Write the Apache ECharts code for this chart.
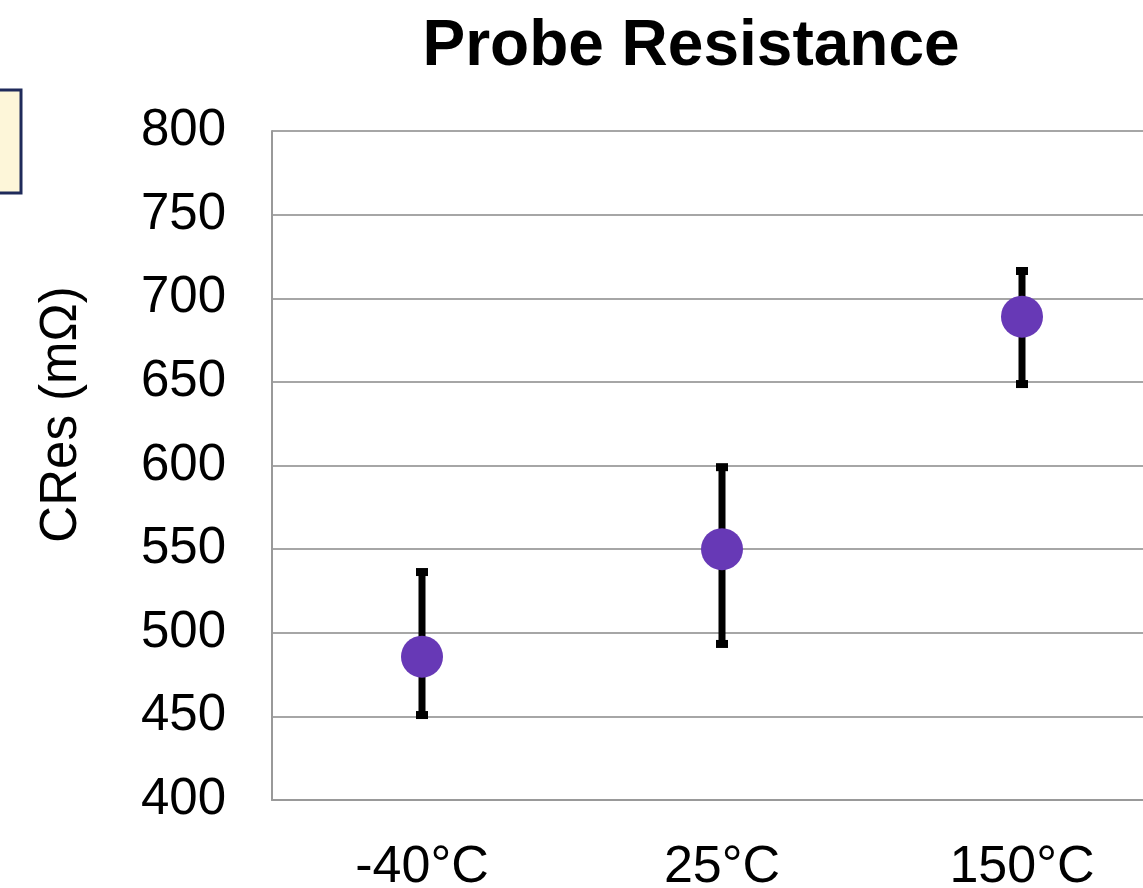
<!DOCTYPE html>
<html>
<head>
<meta charset="utf-8">
<script src="https://cdn.jsdelivr.net/npm/echarts@6/dist/echarts.min.js"></script>
<style>
  html, body { margin: 0; padding: 0; background: #fff; }
  #main { width: 1143px; height: 888px; }
</style>
</head>
<body>
<div id="main"></div>
<script>
const categories = ["-40°C", "25°C", "150°C"];
const meanValues = [485.7, 550, 689];
const upperValues = [536.3, 599, 716.3];
const lowerValues = [450.8, 493.3, 648.7];
const yTicks = [400, 450, 500, 550, 600, 650, 700, 750, 800];

const font = "Liberation Sans, Arial, sans-serif";

const myChart = echarts.init(document.getElementById("main"));

const errorData = categories.map((c, i) => [i, lowerValues[i], upperValues[i]]);

const option = {
  animation: false,
  title: {
    text: "Probe Resistance",
    left: 686,
    top: 10,
    textAlign: "center",
    textStyle: { fontFamily: font, fontSize: 64, fontWeight: "bold", color: "#000" },
  },
  grid: { left: 272, width: 900, top: 131, height: 669, outerBoundsMode: "none", containLabel: false },
  graphic: [
    {
      type: "rect",
      shape: { x: -3, y: 90, width: 24, height: 103 },
      style: { fill: "#fdf6d9", stroke: "#1f2a5a", lineWidth: 3 },
    },
  ],
  xAxis: {
    type: "category",
    data: categories,
    axisLine: { lineStyle: { color: "#999", width: 2 } },
    axisTick: { show: false },
    axisLabel: { fontFamily: font, fontSize: 52, color: "#000", margin: 42 },
  },
  yAxis: {
    type: "value",
    min: yTicks[0],
    max: yTicks[yTicks.length - 1],
    interval: 50,
    name: "CRes (mΩ)",
    nameLocation: "middle",
    nameGap: 185,
    nameTextStyle: { fontFamily: font, fontSize: 51, color: "#000", padding: [0, 0, 0, 102] },
    axisLine: { show: true, lineStyle: { color: "#999", width: 2 } },
    axisTick: { show: false },
    splitLine: { lineStyle: { color: "#a6a6a6", width: 2 } },
    axisLabel: { fontFamily: font, fontSize: 51, color: "#000", margin: 46 },
  },
  series: [
    {
      type: "custom",
      data: errorData,
      z: 3,
      renderItem: function (params, api) {
        const x = api.value(0);
        const lo = api.coord([x, api.value(1)]);
        const hi = api.coord([x, api.value(2)]);
        const capW = 12, capH = 8;
        return {
          type: "group",
          children: [
            {
              type: "line",
              shape: { x1: hi[0], y1: hi[1], x2: lo[0], y2: lo[1] },
              style: { stroke: "#000", lineWidth: 7 },
            },
            {
              type: "rect",
              shape: { x: hi[0] - capW / 2, y: hi[1] - capH / 2, width: capW, height: capH },
              style: { fill: "#000" },
            },
            {
              type: "rect",
              shape: { x: lo[0] - capW / 2, y: lo[1] - capH / 2, width: capW, height: capH },
              style: { fill: "#000" },
            },
          ],
        };
      },
    },
    {
      type: "scatter",
      data: meanValues,
      symbolSize: 42,
      z: 4,
      itemStyle: { color: "#6739b6", opacity: 1 },
    },
  ],
};

myChart.setOption(option);
</script>
</body>
</html>
